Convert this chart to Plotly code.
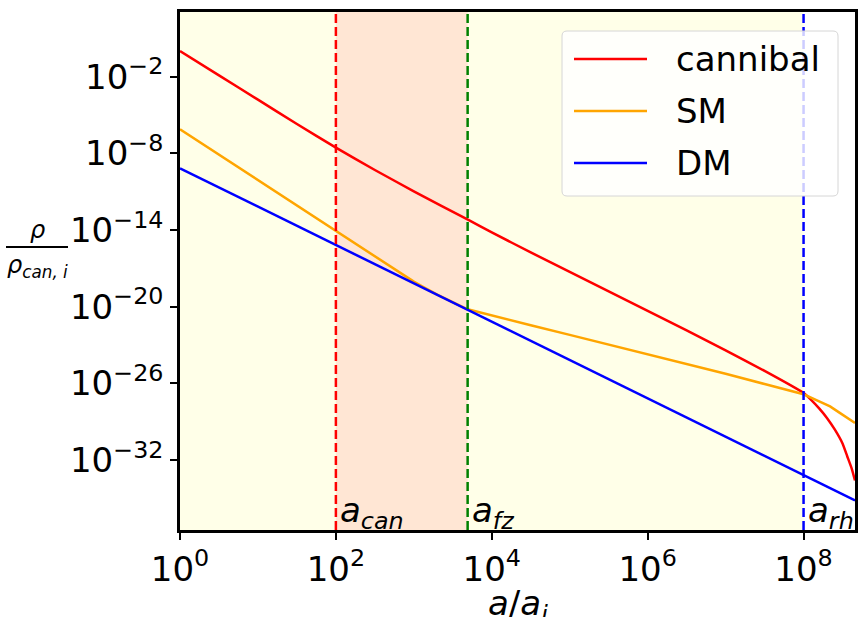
import numpy as np
import plotly.graph_objects as go

# ---- data (log10 values) ----
can_loga = [0.0, 0.5, 1.0, 1.5, 2.0, 2.5, 3.0, 3.7, 4.0, 4.5, 5.0, 5.5, 6.0, 6.5, 7.0, 7.5,
            8.0, 8.1, 8.2, 8.3, 8.4, 8.5, 8.56, 8.62, 8.66]
can_logrho = [0.0, -1.9, -3.8, -5.7, -7.55, -9.3, -10.97, -13.21, -14.18, -15.75, -17.27,
              -18.8, -20.32, -21.86, -23.42, -25.02, -26.75, -27.3, -27.95, -28.7, -29.6,
              -30.7, -31.7, -32.7, -33.6]

sm_loga = [0.0, 0.5, 1.0, 1.5, 2.0, 2.5, 2.8, 2.9, 3.0, 3.1, 3.2, 3.3, 3.69, 4.0, 4.5, 5.0,
           5.5, 6.0, 6.5, 7.0, 7.5, 8.0, 8.2, 8.34, 8.45, 8.55, 8.66]
sm_logrho = [-6.12, -8.11, -10.1, -12.1, -14.1, -16.1, -17.3, -17.68, -18.04, -18.39, -18.73,
             -19.06, -20.2, -20.7, -21.45, -22.2, -22.95, -23.7, -24.5, -25.25, -26.05,
             -26.85, -27.4, -27.8, -28.25, -28.65, -29.1]

dm_loga = [0.0, 2.0, 4.0, 6.0, 8.0, 8.66]
dm_logrho = [-9.17, -15.17, -21.17, -27.17, -33.17, -35.15]

a_can = 1e2
a_fz = 4.9e3
a_rh = 1e8

x_tickvals = [1e0, 1e2, 1e4, 1e6, 1e8]
x_ticktext = ["10<sup>0</sup>", "10<sup>2</sup>", "10<sup>4</sup>", "10<sup>6</sup>", "10<sup>8</sup>"]
y_tickvals = [1e-2, 1e-8, 1e-14, 1e-20, 1e-26, 1e-32]
y_ticktext = ["10<sup>\u22122</sup>", "10<sup>\u22128</sup>", "10<sup>\u221214</sup>",
              "10<sup>\u221220</sup>", "10<sup>\u221226</sup>", "10<sup>\u221232</sup>"]

series_names = ["cannibal", "SM", "DM"]
series_colors = ["#ff0000", "#ffa500", "#0000ff"]
series_shapes = ["spline", "linear", "linear"]

FONT = "DejaVu Sans"
W, H = 859, 617
L, R, T, B = 180, 4, 12, 87
PW, PH = W - L - R, H - T - B


def px(xp):
    return (xp - L) / PW


def py(yp):
    return (H - B - yp) / PH


fig = go.Figure()
for name, col, shp, la, lr in zip(series_names, series_colors, series_shapes,
                                  [can_loga, sm_loga, dm_loga],
                                  [can_logrho, sm_logrho, dm_logrho]):
    fig.add_trace(go.Scatter(x=10 ** np.array(la), y=10 ** np.array(lr), mode="lines",
                             name=name, showlegend=False,
                             line=dict(color=col, width=2.5, shape=shp, smoothing=0.5)))

shapes = []
# shaded regions
shapes.append(dict(type="rect", xref="x", yref="paper", x0=1, x1=a_rh, y0=0, y1=1,
                   fillcolor="#ffffe8", line=dict(width=0), layer="below"))
shapes.append(dict(type="rect", xref="x", yref="paper", x0=a_can, x1=a_fz, y0=0, y1=1,
                   fillcolor="#ffe6d4", line=dict(width=0), layer="below"))
# vertical dashed lines
for xv, col in [(a_can, "#ff0000"), (a_fz, "#008000"), (a_rh, "#0000ff")]:
    shapes.append(dict(type="line", xref="x", yref="paper", x0=xv, x1=xv, y0=0, y1=1,
                       line=dict(color=col, width=2.5, dash="9px,4px"), layer="above"))

# manual legend
bx0, bx1, by0, by1 = px(562), px(838), py(196), py(31)
rx, ry = 5 / PW, 5 / PH
path = (f"M {bx0+rx},{by0} L {bx1-rx},{by0} Q {bx1},{by0} {bx1},{by0+ry} "
        f"L {bx1},{by1-ry} Q {bx1},{by1} {bx1-rx},{by1} L {bx0+rx},{by1} "
        f"Q {bx0},{by1} {bx0},{by1-ry} L {bx0},{by0+ry} Q {bx0},{by0} {bx0+rx},{by0} Z")
shapes.append(dict(type="path", xref="paper", yref="paper", path=path,
                   fillcolor="rgba(255,255,255,0.8)", line=dict(color="#d6d6d6", width=1),
                   layer="above"))
annotations = []
for i, (name, col) in enumerate(zip(series_names, series_colors)):
    yy = py(59 + i * 52)
    shapes.append(dict(type="line", xref="paper", yref="paper", x0=px(574), x1=px(647),
                       y0=yy, y1=yy, line=dict(color=col, width=2.5), layer="above"))
    annotations.append(dict(xref="paper", yref="paper", x=px(674), y=yy, text=name,
                            showarrow=False, xanchor="left", yanchor="middle",
                            font=dict(family=FONT, size=34, color="black")))

# y-axis fraction label
shapes.append(dict(type="line", xref="paper", yref="paper", x0=px(6), x1=px(68),
                   y0=py(247), y1=py(247), line=dict(color="black", width=2)))
annotations.append(dict(xref="paper", yref="paper", x=px(37), y=py(247), yshift=1,
                        text="<i>\u03c1</i>", showarrow=False, xanchor="center",
                        yanchor="bottom", font=dict(family=FONT, size=24, color="black")))
annotations.append(dict(xref="paper", yref="paper", x=px(37), y=py(249),
                        text="<i>\u03c1</i><sub><i>can, i</i></sub>", showarrow=False,
                        xanchor="center", yanchor="top",
                        font=dict(family=FONT, size=24, color="black")))

# x-axis title
annotations.append(dict(xref="paper", yref="paper", x=0.5, y=py(605),
                        text="<i>a</i>/<i>a</i><sub><i>i</i></sub>", showarrow=False,
                        xanchor="center", yanchor="middle",
                        font=dict(family=FONT, size=34, color="black")))

# a_can, a_fz, a_rh labels
for xv, lab in [(a_can, "can"), (a_fz, "fz"), (a_rh, "rh")]:
    annotations.append(dict(xref="x", yref="paper", x=np.log10(xv), y=0, xshift=2,
                            yshift=-7, text=f"<i>a</i><sub><i>{lab}</i></sub>",
                            showarrow=False, xanchor="left", yanchor="bottom",
                            font=dict(family=FONT, size=34, color="black")))

fig.update_layout(
    width=W, height=H,
    margin=dict(l=L, r=R, t=T, b=B, pad=0),
    paper_bgcolor="white", plot_bgcolor="white",
    font=dict(family=FONT, size=34, color="black"),
    shapes=shapes, annotations=annotations,
    showlegend=False,
)
fig.update_xaxes(type="log", range=[0, 8.66], tickvals=x_tickvals, ticktext=x_ticktext,
                 automargin=False,
                 showgrid=False, zeroline=False, showline=True, mirror=True,
                 linecolor="black", linewidth=2.5, ticks="outside", ticklen=7, tickwidth=1.5,
                 tickcolor="black", tickfont=dict(family=FONT, size=34))
fig.update_yaxes(type="log", range=[-37.47, 3.06], tickvals=y_tickvals, ticktext=y_ticktext,
                 automargin=False,
                 showgrid=False, zeroline=False, showline=True, mirror=True,
                 linecolor="black", linewidth=2.5, ticks="outside", ticklen=7, tickwidth=1.5,
                 tickcolor="black", tickfont=dict(family=FONT, size=34))

fig.write_html("out.html", config={"displayModeBar": False})
